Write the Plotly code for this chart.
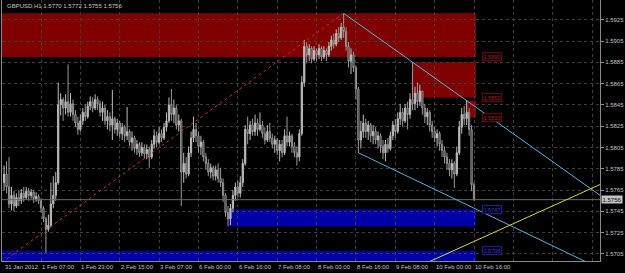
import plotly.graph_objects as go

# ---------------- data ----------------
first_open = 1.5772
closes = [
    1.5780, 1.5768, 1.5752, 1.5760, 1.5750, 1.5758, 1.5755, 1.5762, 1.5758, 1.5764,
    1.5760, 1.5763, 1.5757, 1.5759, 1.5755, 1.5748, 1.5738, 1.5728, 1.5732, 1.5752,
    1.5760, 1.5772, 1.5845, 1.5850, 1.5842, 1.5848, 1.5838, 1.5846, 1.5836, 1.5828,
    1.5822, 1.5830, 1.5838, 1.5834, 1.5844, 1.5848, 1.5842, 1.5850, 1.5846, 1.5838,
    1.5842, 1.5830, 1.5834, 1.5826, 1.5832, 1.5822, 1.5828, 1.5818, 1.5824, 1.5816,
    1.5820, 1.5810, 1.5814, 1.5804, 1.5808, 1.5800, 1.5805, 1.5799, 1.5803, 1.5796,
    1.5808, 1.5816, 1.5810, 1.5818, 1.5814, 1.5824, 1.5830, 1.5845, 1.5836, 1.5842,
    1.5826, 1.5830, 1.5782, 1.5790, 1.5780, 1.5800, 1.5814, 1.5822, 1.5816, 1.5806,
    1.5810, 1.5796, 1.5790, 1.5782, 1.5786, 1.5778, 1.5784, 1.5776, 1.5772, 1.5760,
    1.5744, 1.5738, 1.5748, 1.5760, 1.5768, 1.5762, 1.5772, 1.5790, 1.5822, 1.5818,
    1.5826, 1.5820, 1.5828, 1.5822, 1.5826, 1.5818, 1.5812, 1.5820, 1.5814, 1.5808,
    1.5812, 1.5802, 1.5808, 1.5800, 1.5816, 1.5810, 1.5816, 1.5806, 1.5800, 1.5796,
    1.5818, 1.5866, 1.5900, 1.5892, 1.5898, 1.5888, 1.5896, 1.5892, 1.5898, 1.5890,
    1.5896, 1.5892, 1.5900, 1.5906, 1.5902, 1.5912, 1.5908, 1.5918, 1.5914, 1.5900,
    1.5886, 1.5892, 1.5880, 1.5860, 1.5812, 1.5820, 1.5828, 1.5820, 1.5826, 1.5816,
    1.5820, 1.5812, 1.5816, 1.5806, 1.5800, 1.5808, 1.5804, 1.5816, 1.5826, 1.5820,
    1.5832, 1.5838, 1.5830, 1.5842, 1.5836, 1.5850, 1.5846, 1.5856, 1.5848, 1.5858,
    1.5842, 1.5834, 1.5838, 1.5826, 1.5820, 1.5814, 1.5818, 1.5808, 1.5802, 1.5796,
    1.5790, 1.5784, 1.5790, 1.5780, 1.5800, 1.5824, 1.5836, 1.5832, 1.5838, 1.5822,
    1.5770, 1.5756,
]
highs = [
    1.5788, 1.5792, 1.5796, 1.5768, 1.5764, 1.5762, 1.5765, 1.5766, 1.5768, 1.5768,
    1.5767, 1.5766, 1.5765, 1.5763, 1.5761, 1.5757, 1.5750, 1.5740, 1.5742, 1.5772,
    1.5778, 1.5782, 1.5866, 1.5856, 1.5852, 1.5855, 1.5883, 1.5856, 1.5850, 1.5840,
    1.5834, 1.5836, 1.5842, 1.5846, 1.5848, 1.5853, 1.5852, 1.5855, 1.5853, 1.5849,
    1.5848, 1.5845, 1.5840, 1.5838, 1.5859, 1.5834, 1.5832, 1.5830, 1.5828, 1.5826,
    1.5843, 1.5822, 1.5820, 1.5816, 1.5812, 1.5810, 1.5810, 1.5808, 1.5808, 1.5806,
    1.5812, 1.5822, 1.5820, 1.5824, 1.5822, 1.5828, 1.5838, 1.5852, 1.5860, 1.5850,
    1.5845, 1.5836, 1.5832, 1.5800, 1.5796, 1.5806, 1.5820, 1.5834, 1.5828, 1.5820,
    1.5816, 1.5812, 1.5800, 1.5794, 1.5790, 1.5788, 1.5788, 1.5790, 1.5786, 1.5776,
    1.5762, 1.5750, 1.5752, 1.5765, 1.5772, 1.5774, 1.5778, 1.5794, 1.5826, 1.5834,
    1.5830, 1.5832, 1.5836, 1.5832, 1.5838, 1.5830, 1.5824, 1.5826, 1.5828, 1.5818,
    1.5816, 1.5814, 1.5812, 1.5812, 1.5822, 1.5834, 1.5820, 1.5818, 1.5810, 1.5806,
    1.5822, 1.5872, 1.5906, 1.5904, 1.5902, 1.5900, 1.5900, 1.5898, 1.5902, 1.5900,
    1.5900, 1.5898, 1.5904, 1.5910, 1.5912, 1.5916, 1.5918, 1.5922, 1.5931, 1.5918,
    1.5904, 1.5898, 1.5895, 1.5882, 1.5862, 1.5830, 1.5836, 1.5832, 1.5830, 1.5828,
    1.5826, 1.5824, 1.5820, 1.5818, 1.5812, 1.5812, 1.5814, 1.5820, 1.5830, 1.5832,
    1.5838, 1.5846, 1.5842, 1.5846, 1.5848, 1.5856, 1.5885, 1.5862, 1.5866, 1.5864,
    1.5858, 1.5846, 1.5842, 1.5840, 1.5830, 1.5824, 1.5822, 1.5820, 1.5812, 1.5806,
    1.5800, 1.5794, 1.5794, 1.5792, 1.5806, 1.5830, 1.5842, 1.5844, 1.5849, 1.5842,
    1.5826, 1.5772,
]
lows = [
    1.5765, 1.5762, 1.5748, 1.5746, 1.5745, 1.5748, 1.5750, 1.5752, 1.5754, 1.5756,
    1.5755, 1.5757, 1.5753, 1.5754, 1.5752, 1.5744, 1.5735, 1.5706, 1.5726, 1.5730,
    1.5748, 1.5755, 1.5770, 1.5835, 1.5830, 1.5836, 1.5834, 1.5834, 1.5830, 1.5824,
    1.5817, 1.5820, 1.5826, 1.5830, 1.5832, 1.5840, 1.5838, 1.5840, 1.5840, 1.5834,
    1.5830, 1.5826, 1.5822, 1.5820, 1.5812, 1.5818, 1.5816, 1.5814, 1.5812, 1.5810,
    1.5812, 1.5806, 1.5802, 1.5800, 1.5798, 1.5796, 1.5797, 1.5795, 1.5794, 1.5786,
    1.5794, 1.5804, 1.5805, 1.5808, 1.5810, 1.5812, 1.5820, 1.5828, 1.5830, 1.5828,
    1.5822, 1.5820, 1.5750, 1.5772, 1.5776, 1.5778, 1.5796, 1.5810, 1.5810, 1.5800,
    1.5798, 1.5792, 1.5784, 1.5778, 1.5776, 1.5774, 1.5774, 1.5772, 1.5768, 1.5754,
    1.5740, 1.5731, 1.5732, 1.5744, 1.5755, 1.5758, 1.5758, 1.5768, 1.5788, 1.5808,
    1.5812, 1.5816, 1.5816, 1.5816, 1.5820, 1.5814, 1.5808, 1.5810, 1.5810, 1.5804,
    1.5800, 1.5798, 1.5792, 1.5796, 1.5798, 1.5806, 1.5806, 1.5800, 1.5796, 1.5788,
    1.5792, 1.5816, 1.5862, 1.5884, 1.5886, 1.5884, 1.5886, 1.5886, 1.5888, 1.5886,
    1.5888, 1.5886, 1.5890, 1.5896, 1.5898, 1.5900, 1.5904, 1.5906, 1.5908, 1.5896,
    1.5880, 1.5874, 1.5876, 1.5850, 1.5800, 1.5804, 1.5814, 1.5814, 1.5812, 1.5810,
    1.5808, 1.5808, 1.5804, 1.5800, 1.5794, 1.5792, 1.5800, 1.5802, 1.5812, 1.5814,
    1.5818, 1.5826, 1.5824, 1.5828, 1.5822, 1.5832, 1.5840, 1.5840, 1.5842, 1.5844,
    1.5836, 1.5828, 1.5826, 1.5820, 1.5814, 1.5810, 1.5806, 1.5802, 1.5796, 1.5790,
    1.5784, 1.5778, 1.5776, 1.5767, 1.5778, 1.5798, 1.5818, 1.5826, 1.5826, 1.5816,
    1.5764, 1.5755,
]

# time-axis labels (bar index of each labelled bar)
date_label_bars = [0, 15, 31, 47, 63, 79, 95, 111, 127, 143, 159, 175, 191]
date_labels = ["31 Jan 2012", "1 Feb 07:00", "1 Feb 23:00", "2 Feb 15:00", "3 Feb 07:00",
               "6 Feb 00:00", "6 Feb 16:00", "7 Feb 08:00", "8 Feb 00:00", "8 Feb 16:00",
               "9 Feb 08:00", "10 Feb 00:00", "10 Feb 16:00"]
future_grid_bars = [207, 223, 239]
price_ticks = [1.5705, 1.5725, 1.5745, 1.5765, 1.5785, 1.5805, 1.5825, 1.5845,
               1.5865, 1.5885, 1.5905, 1.5925]

# zones (rectangles): start bar, end bar, low price, high price, kind, labelled price
zone_start = [-2, 166.2, 187.8, 91.3, -2]
zone_end = [191.8, 191.8, 191.8, 191.8, 191.8]
zone_low = [1.5890, 1.5852, 1.5833, 1.5731, 1.5690]
zone_high = [1.5931, 1.5885, 1.5849, 1.5747, 1.5708]
zone_kind = ["supply", "supply", "supply", "demand", "demand"]
zone_label = [1.5890, 1.5852, 1.5833, 1.5747, 1.5708]

# trend lines (bar index, price anchors)
red_line_bars, red_line_prices = [-1, 138], [1.5697, 1.5931]
upper_ray_bars, upper_ray_prices = [138, 188], [1.5931, 1.5849]
lower_ray_bars, lower_ray_prices = [144, 191], [1.5800, 1.5748]
yellow_ray_bars, yellow_ray_prices = [173, 242], [1.5698, 1.5770]

symbol = "GBPUSD,H1"
last_price = 1.5756

# ---------------- build ----------------
bars = list(range(len(closes)))
opens = [first_open] + closes[:-1]
highs_f = [max(h, o, c) for h, o, c in zip(highs, opens, closes)]
lows_f = [min(l, o, c) for l, o, c in zip(lows, opens, closes)]

FONT = "Liberation Sans, Arial, sans-serif"
fig = go.Figure()

fig.add_trace(go.Candlestick(
    x=bars, open=opens, high=highs_f, low=lows_f, close=closes,
    increasing=dict(line=dict(color="#bdbdbd", width=1), fillcolor="#bdbdbd"),
    decreasing=dict(line=dict(color="#9a9a9a", width=1), fillcolor="#000000"),
    whiskerwidth=0, showlegend=False, hoverinfo="skip"))


def ray(bx, py, x_end=260):
    slope = (py[1] - py[0]) / (bx[1] - bx[0])
    return [bx[0], x_end], [py[0], py[0] + slope * (x_end - bx[0])]


# current price line
fig.add_trace(go.Scatter(x=[-5, 260], y=[last_price, last_price], mode="lines",
                         line=dict(color="#6a6a6a", width=1), showlegend=False, hoverinfo="skip"))

fig.add_trace(go.Scatter(x=red_line_bars, y=red_line_prices, mode="lines",
                         line=dict(color="#c83232", width=1, dash="dot"),
                         showlegend=False, hoverinfo="skip"))
for bx, py, col in [(upper_ray_bars, upper_ray_prices, "#5cb0dc"),
                    (lower_ray_bars, lower_ray_prices, "#5cb0dc"),
                    (yellow_ray_bars, yellow_ray_prices, "#d6d640")]:
    xs, ys = ray(bx, py)
    fig.add_trace(go.Scatter(x=xs, y=ys, mode="lines", line=dict(color=col, width=1),
                             showlegend=False, hoverinfo="skip"))

shapes = []
annotations = []
for x0, x1, y0, y1, kind, lab in zip(zone_start, zone_end, zone_low, zone_high, zone_kind, zone_label):
    fill = "#800000" if kind == "supply" else "#0000a8"
    shapes.append(dict(type="rect", xref="x", yref="y", x0=x0, x1=x1, y0=y0, y1=y1,
                       fillcolor=fill, line=dict(width=0), layer="below"))
    tcol = "#b02020" if kind == "supply" else "#3a3ad0"
    bcol = "#7a0000" if kind == "supply" else "#1a1ab0"
    annotations.append(dict(x=194.3, y=lab, xref="x", yref="y", xanchor="left", yanchor="middle",
                            text=f"{lab:.4f}", showarrow=False,
                            font=dict(family=FONT, size=5.5, color=tcol),
                            bgcolor="#000000", bordercolor=bcol, borderwidth=1, borderpad=0.5))

# date labels under the time axis, left-aligned at their bar like the terminal does
for b, t in zip(date_label_bars, date_labels):
    annotations.append(dict(x=b, y=0, xref="x", yref="paper", xanchor="left", yanchor="top",
                            xshift=-1, yshift=-1, text=t, showarrow=False,
                            font=dict(family=FONT, size=6, color="#c0c0c0")))

annotations.append(dict(x=1, y=last_price, xref="paper", yref="y", xanchor="left", yanchor="middle",
                        xshift=1, text=f"{last_price:.4f}", showarrow=False,
                        font=dict(family=FONT, size=6, color="#000000"),
                        bgcolor="#c4c4c4", borderpad=0.5))
annotations.append(dict(x=0, y=1, xref="paper", yref="paper", xanchor="left", yanchor="top",
                        xshift=3, yshift=-1,
                        text=f"{symbol} {opens[-1]:.4f} {highs_f[-1]:.4f} {lows_f[-1]:.4f} {closes[-1]:.4f}",
                        showarrow=False, font=dict(family=FONT, size=6, color="#c8c8c8")))

fig.update_layout(
    template="none",
    width=625, height=273,
    margin=dict(l=2, r=25, t=0, b=12),
    paper_bgcolor="#000000", plot_bgcolor="#000000",
    shapes=shapes, annotations=annotations,
    showlegend=False,
    xaxis=dict(range=[-0.85, 242.2], rangeslider=dict(visible=False),
               tickvals=date_label_bars[1:] + future_grid_bars,
               showticklabels=False, ticks="",
               showgrid=True, gridcolor="#3e3e3e", griddash="3px,3px", gridwidth=1,
               showline=True, linecolor="#8a8a8a", linewidth=1, mirror=True,
               zeroline=False, automargin=False),
    yaxis=dict(range=[1.56984, 1.59435], side="right",
               tickvals=price_ticks, ticktext=[f"{p:.4f}" for p in price_ticks],
               ticks="outside", ticklen=3, tickcolor="#909090",
               tickfont=dict(family=FONT, size=6, color="#c0c0c0"),
               showgrid=True, gridcolor="#3e3e3e", griddash="3px,3px", gridwidth=1,
               showline=True, linecolor="#8a8a8a", linewidth=1, mirror=True,
               zeroline=False, automargin=False),
)

fig.write_html("out.html")
